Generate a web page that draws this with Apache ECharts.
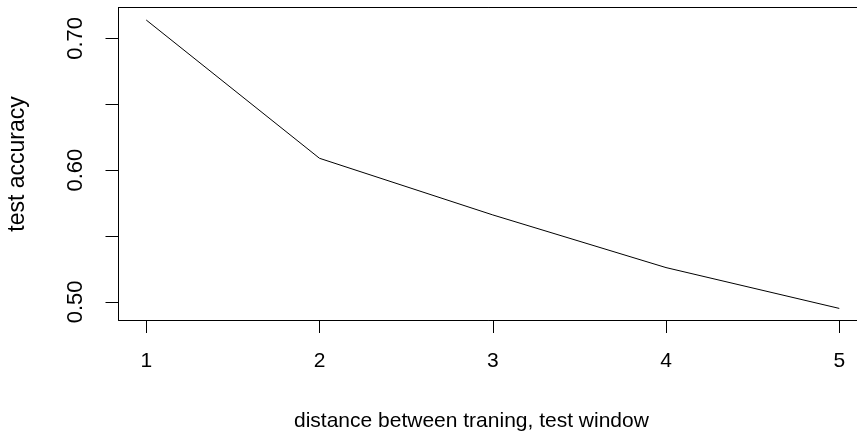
<!DOCTYPE html>
<html>
<head>
<meta charset="utf-8">
<script src="https://cdn.jsdelivr.net/npm/echarts@6/dist/echarts.min.js"></script>
<style>html,body{margin:0;padding:0;background:#fff;overflow:hidden;}#c{width:857px;height:440px;}</style>
</head>
<body>
<div id="c"></div>
<script>
const xValues = [1, 2, 3, 4, 5];
const accuracy = [0.714, 0.609, 0.566, 0.526, 0.495];
const xTicks = [1, 2, 3, 4, 5];
const yTicks = [0.50, 0.55, 0.60, 0.65, 0.70];
const yLabels = [0.50, 0.60, 0.70];
const xTitle = 'distance between traning, test window';
const yTitle = 'test accuracy';

const FONT = '"Liberation Sans", Arial, sans-serif';
const chart = echarts.init(document.getElementById('c'), null, {renderer: 'canvas'});
chart.setOption({
  animation: false,
  backgroundColor: '#fff',
  grid: {left: 118.5, top: 7.5, width: 748.5, height: 312.5, show: false, containLabel: false, outerBoundsMode: 'none'},
  xAxis: [{
    type: 'value', min: 0.84, max: 5.16, position: 'bottom',
    axisLine: {show: true, onZero: false, lineStyle: {color: '#000', width: 1}},
    splitLine: {show: false},
    axisTick: {show: true, customValues: xTicks, length: 13, lineStyle: {color: '#000', width: 1}},
    axisLabel: {customValues: xTicks, color: '#000', fontSize: 21, fontFamily: FONT, margin: 31}
  }, {
    type: 'value', min: 0.84, max: 5.16, position: 'top',
    axisLine: {show: true, onZero: false, lineStyle: {color: '#000', width: 1}},
    splitLine: {show: false}, axisTick: {show: false}, axisLabel: {show: false}
  }],
  yAxis: {
    type: 'value', min: 0.4862, max: 0.7235,
    axisLine: {show: true, onZero: false, lineStyle: {color: '#000', width: 1}},
    splitLine: {show: false},
    axisTick: {show: true, customValues: yTicks, length: 13, lineStyle: {color: '#000', width: 1}},
    axisLabel: {customValues: yLabels, rotate: 90, color: '#000', fontSize: 22, fontFamily: FONT, margin: 32,
      formatter: v => v.toFixed(2)}
  },
  series: [{
    type: 'line',
    data: xValues.map((x, i) => [x, accuracy[i]]),
    symbol: 'none',
    lineStyle: {color: '#000', width: 1},
    clip: false
  }],
  graphic: [
    {type: 'text', left: 294, top: 411, style: {text: xTitle, font: '21px ' + FONT, fill: '#000'}},
    {type: 'text', x: 18, y: 164, rotation: Math.PI / 2,
      style: {text: yTitle, font: '23px ' + FONT, fill: '#000', align: 'center', verticalAlign: 'middle'}}
  ]
});
</script>
</body>
</html>
